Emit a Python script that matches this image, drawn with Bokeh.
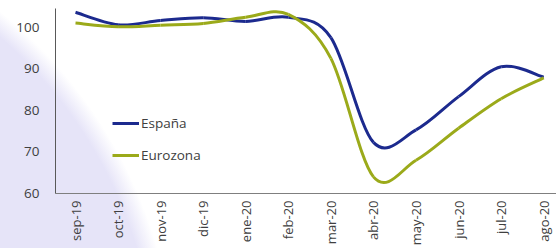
import numpy as np
from bokeh.plotting import figure
from bokeh.models import FixedTicker, Legend, LegendItem, ColumnDataSource
from bokeh.embed import file_html
from bokeh.resources import INLINE

# ---- data ----
months = ["sep-19", "oct-19", "nov-19", "dic-19", "ene-20", "feb-20",
          "mar-20", "abr-20", "may-20", "jun-20", "jul-20", "ago-20"]
espana = [103.6, 100.6, 101.6, 102.3, 101.4, 102.4, 97.5, 72.3, 75.3, 83.3, 90.5, 88.0]
eurozona = [101.0, 100.1, 100.5, 100.9, 102.4, 103.1, 92.5, 64.0, 68.0, 75.7, 82.8, 87.8]
y_ticks = [60, 70, 80, 90, 100]

BLUE = "#1C2A8E"
GREEN = "#9BAA1A"
TXT = "#404040"
FONT = "Open Sans"
FS = "13.5px"

p = figure(width=556, height=248, output_backend="svg", toolbar_location=None,
           x_range=(-0.47, 11.30), y_range=(60, 104.5),
           min_border_left=55, min_border_right=0, min_border_top=8,
           min_border_bottom=52)
p.background_fill_color = None
p.border_fill_color = None
p.outline_line_color = None
p.xgrid.visible = False
p.ygrid.visible = False

# lavender decorative background (page backdrop behind the chart)
p.styles = {
    "background-color": "white",
    "background-image": "radial-gradient(circle at -296px 379px, "
                        "#E6E4F8 452px, rgba(230,228,248,0.0) 472px)",
}


def smooth_segments(ys):
    xs = list(range(len(ys)))
    n = len(ys)
    d = dict(x0=[], y0=[], x1=[], y1=[], cx0=[], cy0=[], cx1=[], cy1=[])
    for i in range(n - 1):
        a = max(i - 1, 0)
        b = min(i + 2, n - 1)
        d["x0"].append(xs[i]); d["y0"].append(ys[i])
        d["x1"].append(xs[i + 1]); d["y1"].append(ys[i + 1])
        d["cx0"].append(xs[i] + (xs[i + 1] - xs[a]) / 6.0)
        d["cy0"].append(ys[i] + (ys[i + 1] - ys[a]) / 6.0)
        d["cx1"].append(xs[i + 1] - (xs[b] - xs[i]) / 6.0)
        d["cy1"].append(ys[i + 1] - (ys[b] - ys[i]) / 6.0)
    return ColumnDataSource(d)


r_es = p.bezier(x0="x0", y0="y0", x1="x1", y1="y1", cx0="cx0", cy0="cy0",
                cx1="cx1", cy1="cy1", source=smooth_segments(espana),
                line_color=BLUE, line_width=3)
r_eu = p.bezier(x0="x0", y0="y0", x1="x1", y1="y1", cx0="cx0", cy0="cy0",
                cx1="cx1", cy1="cy1", source=smooth_segments(eurozona),
                line_color=GREEN, line_width=3)

# axes
xa = p.xaxis[0]
xa.ticker = FixedTicker(ticks=list(range(len(months))))
xa.major_label_overrides = {i: m for i, m in enumerate(months)}
xa.major_label_orientation = np.pi / 2
xa.major_tick_line_color = None
xa.minor_tick_line_color = None
xa.major_tick_out = 0
xa.major_tick_in = 0
xa.major_label_standoff = 7
xa.axis_line_color = "#7F7F7F"
xa.axis_line_width = 1
xa.major_label_text_font = FONT
xa.major_label_text_font_size = "13px"
xa.major_label_text_color = TXT

ya = p.yaxis[0]
ya.ticker = FixedTicker(ticks=y_ticks)
ya.major_tick_line_color = None
ya.minor_tick_line_color = None
ya.major_tick_out = 0
ya.major_tick_in = 0
ya.major_label_standoff = 16
ya.axis_line_color = "#595959"
ya.axis_line_width = 1
ya.major_label_text_font = FONT
ya.major_label_text_font_size = FS
ya.major_label_text_color = TXT

legend = Legend(items=[LegendItem(label="España", renderers=[r_es]),
                       LegendItem(label="Eurozona", renderers=[r_eu])],
                location=(57, 28), orientation="vertical",
                glyph_width=27, glyph_height=20, spacing=12, padding=0,
                margin=0, label_standoff=2, border_line_color=None,
                background_fill_alpha=0,
                label_text_font=FONT, label_text_font_size=FS,
                label_text_color=TXT)
p.add_layout(legend)

open("out.html", "w").write(file_html(p, INLINE))
